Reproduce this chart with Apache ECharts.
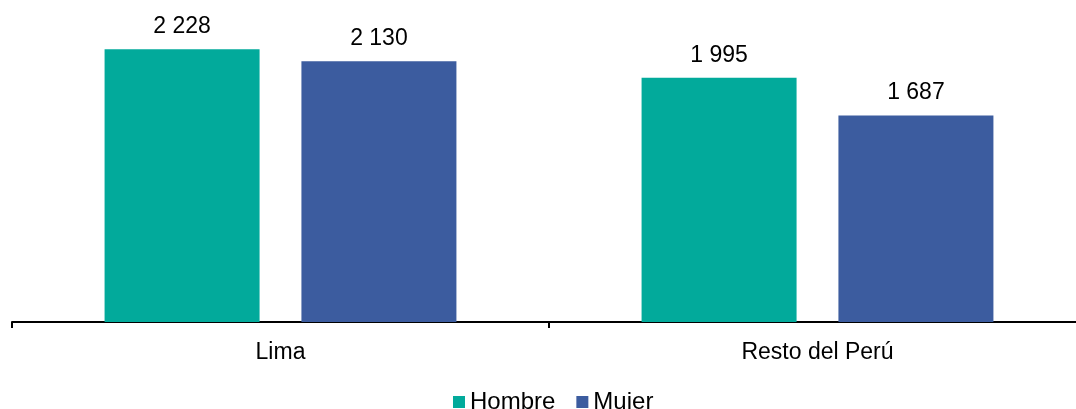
<!DOCTYPE html>
<html>
<head>
<meta charset="utf-8">
<script src="https://cdn.jsdelivr.net/npm/echarts@6/dist/echarts.min.js"></script>
<style>html,body{margin:0;padding:0;background:#fff}#c{width:1076px;height:409px}</style>
</head>
<body>
<div id="c"></div>
<script>
const categories = ['Lima', 'Resto del Perú'];
const hombre = [2228, 1995];
const mujer = [2130, 1687];
const seriesNames = ['Hombre', 'Mujer'];

const fmt = v => String(v).replace(/\B(?=(\d{3})+(?!\d))/g, ' ');
const font = 'Liberation Sans, Arial, sans-serif';
const chart = echarts.init(document.getElementById('c'));
const labelCfg = {
  show: true, position: 'top', distance: 11,
  color: '#000', fontSize: 23, fontFamily: font,
  formatter: p => fmt(p.value)
};
chart.setOption({
  animation: false,
  grid: { left: 12, width: 1074, top: 16, bottom: 87, containLabel: false, outerBoundsMode: 'none' },
  legend: {
    data: seriesNames, left: 448, top: 385,
    itemWidth: 12, itemHeight: 12, itemGap: 21,
    icon: 'rect',
    textStyle: { fontSize: 24, fontFamily: font, color: '#000' }
  },
  xAxis: {
    type: 'category', data: categories,
    axisLine: { lineStyle: { color: '#000', width: 2 } },
    axisTick: { show: true, length: 6, lineStyle: { color: '#000', width: 2 } },
    axisLabel: { color: '#000', fontSize: 23, fontFamily: font, margin: 19 }
  },
  yAxis: { type: 'value', min: 0, max: 2500, show: false, splitLine: { show: false } },
  series: [
    { name: seriesNames[0], type: 'bar', data: hombre, barWidth: 155, barGap: '27%',
      itemStyle: { color: '#02AA9B' }, label: labelCfg },
    { name: seriesNames[1], type: 'bar', data: mujer, barWidth: 155,
      itemStyle: { color: '#3C5C9F' }, label: labelCfg }
  ]
});
</script>
</body>
</html>
